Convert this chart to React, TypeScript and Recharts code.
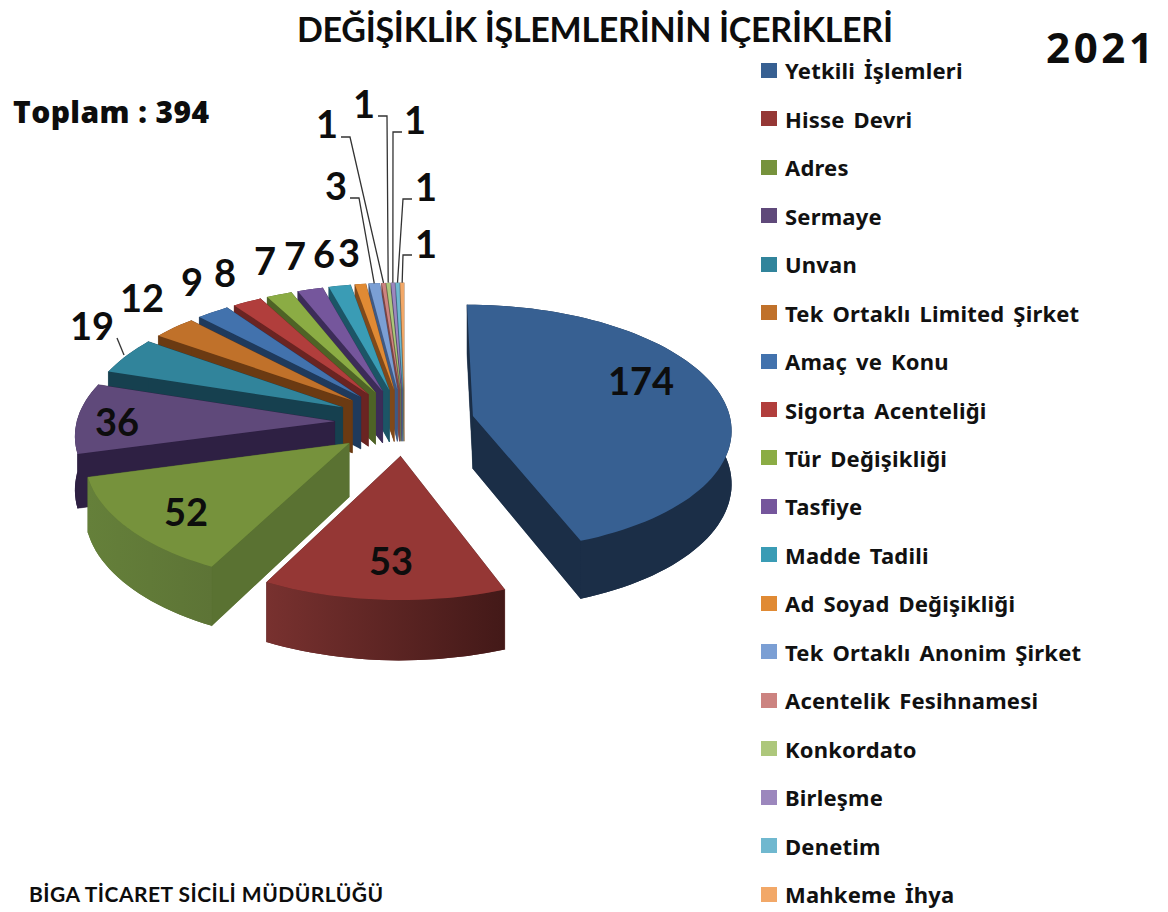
import { Legend, Pie, PieChart } from "recharts";

const categories = [
  "Yetkili İşlemleri",
  "Hisse Devri",
  "Adres",
  "Sermaye",
  "Unvan",
  "Tek Ortaklı Limited Şirket",
  "Amaç ve Konu",
  "Sigorta Acenteliği",
  "Tür Değişikliği",
  "Tasfiye",
  "Madde Tadili",
  "Ad Soyad Değişikliği",
  "Tek Ortaklı Anonim Şirket",
  "Acentelik Fesihnamesi",
  "Konkordato",
  "Birleşme",
  "Denetim",
  "Mahkeme İhya",
];
const counts = [174, 53, 52, 36, 19, 12, 9, 8, 7, 7, 6, 3, 3, 1, 1, 1, 1, 1];

const topColors = [
  "#376092", "#953735", "#76923c", "#5f497a", "#31849b", "#c0712a",
  "#4272ad", "#b13e3c", "#8bac44", "#75569c", "#3a9cb5", "#e08a34",
  "#7b9fd4", "#cc8380", "#adc77b", "#9c87bd", "#70b8cf", "#f2a868",
];
const wallColors = [
  "#1b2e47", "#5e2524", "#5a7232", "#2e2043", "#16404f", "#6b3a12",
  "#1f3a5c", "#6a2422", "#4e6326", "#3c2c58", "#1c5566", "#80491a",
  "#3f5a85", "#7c4442", "#66784a", "#564878", "#3c7488", "#9a6a3c",
];
const wallShade = ["#1b2e47", "#78312f", "#65803a", "#2e2043"];
const wallShadeEnd = ["#1b2e47", "#431918", "#5d7436", "#2e2043"];

// label centres, placed by hand like the manual layout of the original
const labelSpots = [
  [641, 380], [391, 560], [186, 511], [117, 421], [92, 325], [142, 297],
  [192, 281], [225, 272], [265, 260], [295, 255], [324, 253], [349, 252],
  [336, 185], [327, 123], [364, 103], [415, 119], [426, 186], [426, 243],
];
// elbow of the leader lines: [text end x, y, bend x]
const leaders: Record<number, number[]> = {
  12: [350, 198, 359],
  13: [341, 137, 350],
  14: [378, 116, 387],
  15: [402, 132, 393],
  16: [412, 199, 403],
  17: [412, 255, 403],
};

const pieData = categories
  .map((name, order) => ({ name, value: counts[order], order, fill: topColors[order] }))
  .reverse();

const RADIUS_X = 258;
const Y_RATIO = 123 / 258;
const PERSPECTIVE = 0.096;
const EXPLODE = 0.271;
const DEPTH = 53;
const RAD = Math.PI / 180;

const project = (cx: number, cy: number, r: number, u: number, v: number, z: number) => {
  const w = 1 / (1 - PERSPECTIVE * v);
  return [cx + r * u * w, cy + r * Y_RATIO * v * w + z * w];
};

const toPath = (pts: number[][]) =>
  "M" + pts.map((p) => `${p[0].toFixed(1)},${p[1].toFixed(1)}`).join("L") + "Z";

function Slice3D(props: any) {
  const { cx, cy, outerRadius: r, startAngle, endAngle, payload } = props;
  const order: number = payload.order;
  const mid = ((startAngle + endAngle) / 2) * RAD;
  const ou = EXPLODE * Math.cos(mid);
  const ov = -EXPLODE * Math.sin(mid);
  const steps = Math.max(2, Math.ceil(Math.abs(endAngle - startAngle) / 2));
  const arc: number[][] = [];
  for (let i = 0; i <= steps; i++) {
    const a = (startAngle + ((endAngle - startAngle) * i) / steps) * RAD;
    arc.push([ou + Math.cos(a), ov - Math.sin(a)]);
  }
  const top = arc.map(([u, v]) => project(cx, cy, r, u, v, 0));
  const bot = arc.map(([u, v]) => project(cx, cy, r, u, v, DEPTH));
  const apexTop = project(cx, cy, r, ou, ov, 0);
  const apexBot = project(cx, cy, r, ou, ov, DEPTH);
  const wall = wallColors[order];
  const last = arc.length - 1;
  const gradId = `wall-${order}`;
  const outerWall = order < wallShade.length ? `url(#${gradId})` : wall;
  return (
    <g>
      {order < wallShade.length && (
        <defs>
          <linearGradient id={gradId} x1="0" y1="0" x2="1" y2="0">
            <stop offset="0" stopColor={wallShade[order]} />
            <stop offset="1" stopColor={wallShadeEnd[order]} />
          </linearGradient>
        </defs>
      )}
      <path d={toPath([apexBot, ...bot])} fill={wall} />
      <path d={toPath([apexTop, top[0], bot[0], apexBot])} fill={wall} stroke={wall} strokeWidth={0.5} />
      <path d={toPath([apexTop, top[last], bot[last], apexBot])} fill={wall} stroke={wall} strokeWidth={0.5} />
      <path d={toPath([...top, ...[...bot].reverse()])} fill={outerWall} />
      <path d={toPath([apexTop, ...top])} fill={topColors[order]} />
    </g>
  );
}

function SliceLabel(props: any) {
  const { cx, cy, outerRadius: r, midAngle, payload } = props;
  const order: number = payload.order;
  const [x, y] = labelSpots[order];
  const a = midAngle * RAD;
  const end = project(
    cx, cy, r,
    (1 + EXPLODE) * Math.cos(a),
    -(1 + EXPLODE) * Math.sin(a),
    0,
  );
  const elbow = leaders[order];
  return (
    <g>
      {elbow && (
        <polyline
          points={`${elbow[0]},${elbow[1]} ${elbow[2]},${elbow[1]} ${end[0]},${end[1]}`}
          fill="none"
          stroke="#333"
          strokeWidth={1.3}
        />
      )}
      {order === 4 && <line x1={117} y1={338} x2={124} y2={355} stroke="#333" strokeWidth={1.3} />}
      <text
        x={x}
        y={y}
        textAnchor="middle"
        dominantBaseline="central"
        fontFamily="Lato"
        fontWeight={700}
        fontSize={38}
        fill="#0d0d0d"
      >
        {payload.value}
      </text>
    </g>
  );
}

function LegendList() {
  return (
    <div>
      {categories.map((name, i) => (
        <div key={name} style={{ display: "flex", alignItems: "center", height: 48.47 }}>
          <span style={{ width: 16, height: 15, background: topColors[i], marginRight: 8 }} />
          <span
            style={{
              fontFamily: "'Noto Sans'",
              fontWeight: 700,
              fontSize: 22,
              letterSpacing: 0.2,
              wordSpacing: 3,
              color: "#111",
              whiteSpace: "nowrap",
            }}
          >
            {name}
          </span>
        </div>
      ))}
    </div>
  );
}

export default function App() {
  return (
    <div style={{ position: "absolute", left: 0, top: 0, width: 1168, height: 912, background: "#fff" }}>
      <PieChart width={1168} height={912} margin={{ top: 0, right: 0, bottom: 0, left: 0 }}>
        <Pie
          data={pieData}
          dataKey="value"
          nameKey="name"
          cx={404.5}
          cy={422}
          innerRadius={0}
          outerRadius={RADIUS_X}
          startAngle={90}
          endAngle={450}
          stroke="none"
          isAnimationActive={false}
          shape={Slice3D}
          label={SliceLabel}
          labelLine={false}
        />
        <Legend
          layout="vertical"
          align="right"
          verticalAlign="top"
          content={LegendList}
          wrapperStyle={{ position: "absolute", left: 761, top: 46, width: 400 }}
        />
        <text x={595} y={42} textAnchor="middle" fontFamily="Lato" fontWeight={700} fontSize={34} textLength={596} fill="#0d0d0d">
          DEĞİŞİKLİK İŞLEMLERİNİN İÇERİKLERİ
        </text>
        <text x={1046} y={63} fontFamily="'Open Sans'" fontWeight={700} fontSize={42} textLength={107} fill="#0d0d0d">
          2021
        </text>
        <text x={13} y={123} fontFamily="'Open Sans'" fontWeight={800} fontSize={30} textLength={196} fill="#0d0d0d">
          Toplam : 394
        </text>
        <text x={29} y={902} fontFamily="Lato" fontWeight={700} fontSize={21} textLength={354} fill="#0d0d0d">
          BİGA TİCARET SİCİLİ MÜDÜRLÜĞÜ
        </text>
      </PieChart>
    </div>
  );
}
